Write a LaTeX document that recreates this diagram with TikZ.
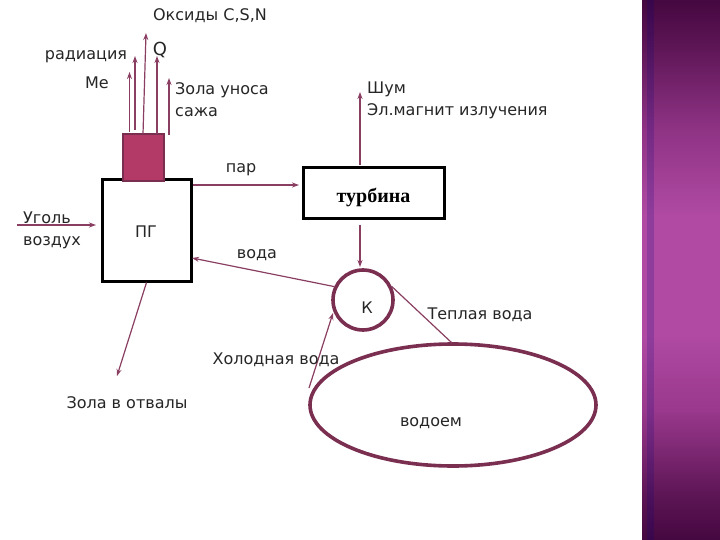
\documentclass[tikz,border=0pt]{standalone}
\usepackage{fontspec}
\setmainfont{DejaVu Sans}
\newfontfamily\serifb{Liberation Serif}
\usetikzlibrary{arrows.meta,shapes.geometric}
\definecolor{linec}{HTML}{8A3F62}
\definecolor{darkc}{HTML}{7A2E50}
\definecolor{fillc}{HTML}{B33A66}
\definecolor{bandA}{rgb}{0.27,0.03,0.25}
\definecolor{bandB}{rgb}{0.36,0.08,0.33}
\definecolor{bandC}{rgb}{0.60,0.22,0.55}
\definecolor{bandD}{rgb}{0.69,0.29,0.64}
\definecolor{bandE}{rgb}{0.56,0.20,0.52}
\pgfdeclareverticalshading{bandshade}{100bp}{
  color(0bp)=(bandA);
  color(25bp)=(bandA);
  color(29bp)=(bandB);
  color(37bp)=(bandC);
  color(44bp)=(bandD);
  color(55bp)=(bandD);
  color(63bp)=(bandE);
  color(71bp)=(bandB);
  color(75bp)=(bandA);
  color(100bp)=(bandA)}
\tikzset{
  lab/.style={font=\fontsize{16}{22}\selectfont, text=black!85, inner sep=0pt, align=left},
  conn/.style={draw=linec, line width=1.2pt, -{Stealth[length=7pt,width=5pt]}},
  blackbox/.style={draw=black, line width=3pt, fill=white, inner sep=0pt},
}
\begin{document}
\begin{tikzpicture}[x=1pt,y=-1pt]
\useasboundingbox (0,0) rectangle (720,540);
\fill[white] (0,0) rectangle (720,540);
% side band
\shade[shading=bandshade] (642,0) rectangle (720,540);
\fill[blue!50!black, opacity=.18] (647,0) rectangle (654,540);
% shapes
\node[blackbox, minimum width=89pt, minimum height=101pt] (pg) at (146.5,230.5) {};
\node[draw=darkc, fill=fillc, line width=1.5pt, minimum width=41pt, minimum height=47pt, inner sep=0pt] (chim) at (143.5,157.5) {};
\node[blackbox, minimum width=141pt, minimum height=51pt, font=\serifb\bfseries\fontsize{20}{22}\selectfont, text depth=0pt] (turb) at (373.5,193.5) {\raisebox{-4pt}{турбина}};
\node[circle, draw=darkc, line width=3.6pt, fill=white, minimum size=60pt, inner sep=0pt] (k) at (363,300) {};
\node[ellipse, draw=darkc, line width=3.6pt, minimum width=286pt, minimum height=122pt, inner sep=0pt] (pond) at (453,405) {};
% free ends
\coordinate (meS) at (129.5,132);
\coordinate (meE) at (129.5,72);
\coordinate (radS) at (135,130);
\coordinate (radE) at (135,56);
\coordinate (oxS) at (143,134);
\coordinate (oxE) at (146,33);
\coordinate (qS) at (157,134);
\coordinate (qE) at (157,56);
\coordinate (zolaS) at (169,135);
\coordinate (zolaE) at (169,78);
\coordinate (coalS) at (17,225);
\coordinate (coalE) at (96,225);
\coordinate (steamS) at (193,185);
\coordinate (steamE) at (299,185);
\coordinate (waterE) at (192,258);
\coordinate (turbS) at (360,225);
\coordinate (turbE) at (360,267);
\coordinate (noiseS) at (360,165);
\coordinate (noiseE) at (360,92);
\coordinate (coldS) at (309,388);
\coordinate (coldE) at (333,313);
\coordinate (warmE) at (452,343);
\coordinate (ashE) at (117,376);
% connectors
\draw[conn] (meS) -- (meE);
\draw[conn] (radS) -- (radE);
\draw[conn] (oxS) -- (oxE);
\draw[conn] (qS) -- (qE);
\draw[conn] (zolaS) -- (zolaE);
\draw[conn] (steamS) -- (steamE);
\draw[conn] (coalS) -- (coalE);
\draw[conn] (k.155) -- (waterE);
\draw[conn] (turbS) -- (turbE);
\draw[conn] (noiseS) -- (noiseE);
\draw[conn] (coldS) -- (coldE);
\draw[conn, -] (k.25) -- (warmE);
\draw[conn] (pg.south) -- (ashE);
% labels
\node[lab, anchor=center] (t1) at (210,16) {Оксиды C,S,N};
\node[lab, anchor=center] (t2) at (86,57) {радиация};
\node[lab, anchor=center] (t3) at (97,83) {Ме};
\node[lab, anchor=center, font=\fontsize{18}{22}\selectfont] (t4) at (160,50) {Q};
\node[lab, anchor=west] (t5) at (175,100) {Зола уноса\\сажа};
\node[lab, anchor=west] (t6) at (367,100) {Шум\\Эл.магнит излучения};
\node[lab, anchor=center] (t7) at (241,170) {пар};
\node[lab, anchor=west] (t8) at (23,230) {Уголь\\воздух};
\node[lab, anchor=center] (t9) at (146,232) {ПГ};
\node[lab, anchor=center] (t10) at (257,255) {вода};
\node[lab, anchor=center] (t11) at (367,308) {К};
\node[lab, anchor=center] (t12) at (480,315) {Теплая вода};
\node[lab, anchor=center] (t13) at (276,360) {Холодная вода};
\node[lab, anchor=center] (t14) at (127,403) {Зола в отвалы};
\node[lab, anchor=center] (t15) at (431,423) {водоем};
\end{tikzpicture}
\end{document}
